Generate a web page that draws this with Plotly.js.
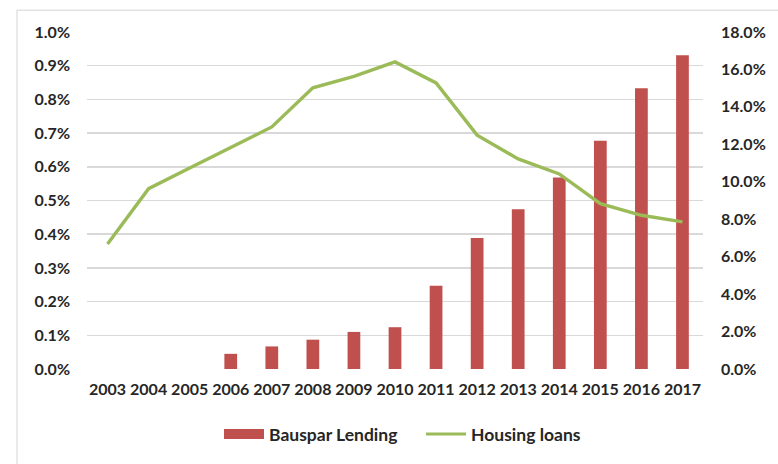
<!DOCTYPE html>
<html>
<head>
<meta charset="utf-8">
<script src="https://cdn.plot.ly/plotly-3.0.1.min.js"></script>
<style>
  html, body { margin: 0; padding: 0; background: #fff; }
  #chart { width: 778px; height: 464px; }
</style>
</head>
<body>
<div id="chart"></div>
<script>
const years = ['2003','2004','2005','2006','2007','2008','2009','2010','2011','2012','2013','2014','2015','2016','2017'];
// Bauspar Lending (left axis, %)
const bausparLending = [null, null, null, 0.045, 0.067, 0.087, 0.110, 0.124, 0.247, 0.389, 0.474, 0.568, 0.677, 0.833, 0.931];
// Housing loans (right axis, %)
const housingLoans = [6.68, 9.63, 10.74, 11.85, 12.93, 15.02, 15.63, 16.40, 15.28, 12.49, 11.22, 10.42, 8.83, 8.21, 7.86];

const leftTicks = [0, 0.1, 0.2, 0.3, 0.4, 0.5, 0.6, 0.7, 0.8, 0.9, 1.0];
const rightTicks = [0, 2, 4, 6, 8, 10, 12, 14, 16, 18];

const FONT = 'Lato, "Open Sans", Arial, sans-serif';
const TXT = '#262626';
const RED = '#c0504d';
const GREEN = '#9bbb59';

const traces = [
  {
    type: 'bar',
    name: 'Bauspar Lending',
    x: years,
    y: bausparLending,
    marker: { color: RED },
    yaxis: 'y',
    showlegend: false
  },
  {
    type: 'scatter',
    mode: 'lines',
    name: 'Housing loans',
    x: years,
    y: housingLoans,
    line: { color: GREEN, width: 3.4 },
    yaxis: 'y2',
    showlegend: false
  },
  // legend-only entries (wide swatches like the original)
  {
    type: 'scatter', mode: 'lines', name: 'Bauspar Lending',
    x: [null], y: [null], line: { color: RED, width: 10 }, yaxis: 'y',
    legendrank: 1
  },
  {
    type: 'scatter', mode: 'lines', name: 'Housing loans',
    x: [null], y: [null], line: { color: GREEN, width: 3 }, yaxis: 'y2',
    legendrank: 2
  }
];

const layout = {
  width: 778,
  height: 464,
  margin: { l: 87, r: 75, t: 32, b: 92 },
  paper_bgcolor: '#ffffff',
  plot_bgcolor: '#ffffff',
  font: { family: FONT, color: TXT, size: 15 },
  bargap: 0.69,
  showlegend: true,
  legend: {
    orientation: 'h',
    x: (219 - 87) / 616, xanchor: 'left',
    y: -0.193, yanchor: 'middle',
    font: { family: FONT, size: 17.5, color: TXT, weight: 'bold' },
    itemwidth: 40,
    traceorder: 'normal',
    entrywidth: 147
  },
  xaxis: {
    type: 'category',
    categoryorder: 'array',
    categoryarray: years,
    showgrid: false,
    zeroline: false,
    showline: false,
    ticks: '',
    tickfont: { family: FONT, size: 16, color: TXT, weight: 'bold' },
    ticklabelstandoff: 9
  },
  yaxis: {
    range: [0, 1.0],
    tickvals: leftTicks,
    ticktext: leftTicks.map(v => v.toFixed(1) + '%'),
    showgrid: true,
    gridcolor: '#d9d9d9',
    gridwidth: 1.5,
    zeroline: false,
    showline: false,
    ticks: '',
    tickfont: { family: FONT, size: 16, color: TXT, weight: 'bold' },
    ticklabelstandoff: 16
  },
  yaxis2: {
    overlaying: 'y',
    side: 'right',
    range: [0, 18],
    tickvals: rightTicks,
    ticktext: rightTicks.map(v => v.toFixed(1) + '%'),
    showgrid: false,
    zeroline: false,
    showline: false,
    ticks: '',
    tickfont: { family: FONT, size: 16, color: TXT, weight: 'bold' },
    ticklabelstandoff: 17
  },
  shapes: [
    {
      type: 'rect', xref: 'paper', yref: 'paper',
      x0: (17 - 87) / 616, x1: 1.3,
      y0: -0.5, y1: 1 + 22 / 340,
      line: { color: '#e3e3e3', width: 1.5 },
      fillcolor: 'rgba(0,0,0,0)',
      layer: 'below'
    }
  ]
};

Plotly.newPlot('chart', traces, layout, { displayModeBar: false, staticPlot: true });
</script>
</body>
</html>
